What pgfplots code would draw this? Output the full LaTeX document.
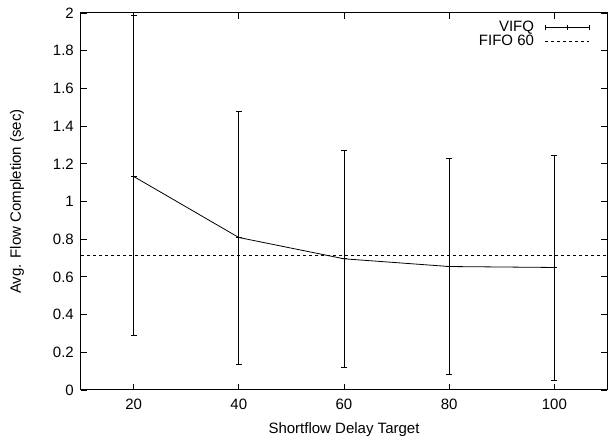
\documentclass[border=0pt]{standalone}
\usepackage{fontspec}
\setmainfont{Liberation Sans}
\usepackage{pgfplots}
\pgfplotsset{compat=1.18}
\begin{document}
\fontsize{15}{18}\selectfont
\begin{tikzpicture}
\begin{axis}[
  at={(0pt,0pt)}, anchor=south west,
  scale only axis, width=526pt, height=377pt,
  xmin=10, xmax=110, ymin=0, ymax=2,
  xtick={20,40,60,80,100},
  ytick={0,0.2,0.4,0.6,0.8,1,1.2,1.4,1.6,1.8,2},
  tick align=inside, xtick pos=both, ytick pos=both,
  major tick length=6pt,
  axis line style={line width=1pt},
  every tick/.style={black, line width=0.8pt},
  /pgf/number format/assume math mode=true,
  tick label style={font=\fontsize{15}{18}\selectfont},
  xticklabel style={yshift=-4pt},
  yticklabel style={xshift=-2pt},
  label style={font=\fontsize{15}{18}\selectfont},
  xlabel={Shortflow Delay Target},
  ylabel={Avg. Flow Completion (sec)},
  xlabel style={at={(axis description cs:0.5,-0.1141)}, anchor=base},
  ylabel style={at={(axis description cs:-0.1217,0.5)}, anchor=center, rotate=0},
  legend plot pos=right,
  legend cell align=right,
  legend style={at={(axis description cs:1,1)}, anchor=north east, xshift=-14pt, yshift=-4pt,
    draw=none, fill=none, font=\fontsize{15}{18}\selectfont, row sep=-3pt},
]
\addplot[black, line width=0.8pt, mark=-, mark size=3pt,
  error bars/.cd, y dir=both, y explicit, error mark=|,
  error mark options={mark size=3pt, line width=0.8pt, black},
  error bar style={line width=0.7pt, black},
  /pgfplots/legend image code/.code={
    \path (0pt,0pt);
    \draw[black, line width=0.8pt] (9pt,0pt) -- (53pt,0pt);
    \draw[black, line width=0.8pt] (9pt,-2.5pt) -- (9pt,2.5pt);
    \draw[black, line width=0.8pt] (31pt,-2.5pt) -- (31pt,2.5pt);
    \draw[black, line width=0.8pt] (53pt,-2.5pt) -- (53pt,2.5pt);}]
  coordinates {
  (20,1.133) += (0,0.855) -= (0,0.846)
  (40,0.809) += (0,0.671) -= (0,0.671)
  (60,0.696) += (0,0.575) -= (0,0.577)
  (80,0.655) += (0,0.573) -= (0,0.574)
  (100,0.650) += (0,0.596) -= (0,0.597)
  };
\addlegendentry{VIFQ}
\addplot[black, line width=0.8pt, dash pattern=on 3pt off 3pt,
  legend image code/.code={\path (0pt,0pt); \draw[black, line width=0.8pt, dash pattern=on 3pt off 3pt] (9pt,0pt) -- (53pt,0pt);}]
  coordinates {(10,0.715) (110,0.715)};
\addlegendentry{FIFO 60}
\end{axis}
\pgfresetboundingbox
\useasboundingbox (-81pt,-51pt) rectangle (529pt,390pt);
\end{tikzpicture}
\end{document}
